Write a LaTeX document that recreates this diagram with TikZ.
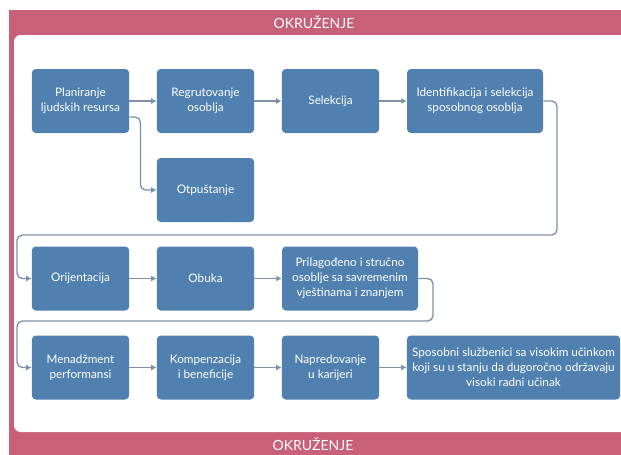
\documentclass[tikz,border=0pt]{standalone}
\usepackage{fontspec}
\setmainfont{Lato}
\usetikzlibrary{arrows.meta}
\definecolor{boxblue}{RGB}{80,128,176}
\definecolor{framepink}{RGB}{200,96,122}
\definecolor{linegray}{RGB}{125,145,168}

\begin{document}
\begin{tikzpicture}[x=0.75pt,y=-0.75pt,
	box/.style={fill=boxblue,rounded corners=3pt,text=white,align=center,
		font=\fontsize{8.8}{11.25}\selectfont,inner sep=0pt,
		minimum width=73pt,minimum height=48pt},
	widebox/.style={box,minimum width=102pt},
	endbox/.style={box,minimum width=160pt},
	link/.style={draw=linegray,line width=1pt,rounded corners=4pt,
		-{Latex[length=4pt,width=4.5pt]}},
	frametxt/.style={text=white,font=\fontsize{10.5}{12}\selectfont}]
	\useasboundingbox (0,0) rectangle (621,454);
	\clip (0,0) rectangle (621,454);
	% okvir
	\fill[framepink] (9,10) rectangle (660,480);
	\fill[white,rounded corners=5pt] (14,35) rectangle (680,432);
	\node[frametxt] (topline) at (314,22) {OKRUŽENJE};
	\node[frametxt] (bottomline) at (313,444) {OKRUŽENJE};

	% prvi red
	\node[box] (plan) at (80.5,101) {Planiranje\\ljudskih resursa};
	\node[box] (regr) at (205.5,101) {Regrutovanje\\osoblja};
	\node[box] (sel) at (330.5,101) {Selekcija};
	\node[widebox] (ident) at (475,101) {Identifikacija i selekcija\\sposobnog osoblja};
	\node[box] (otp) at (205.5,190) {Otpuštanje};

	% drugi red
	\node[box] (orij) at (80.5,278.5) {Orijentacija};
	\node[box] (obuka) at (205.5,278.5) {Obuka};
	\node[widebox] (pril) at (350,278.5) {Prilagođeno i stručno\\osoblje sa savremenim\\vještinama i znanjem};

	% treci red
	\node[box] (men) at (80.5,367.5) {Menadžment\\performansi};
	\node[box] (komp) at (205.5,367.5) {Kompenzacija\\i beneficije};
	\node[box] (napr) at (330.5,367.5) {Napredovanje\\u karijeri};
	\node[endbox] (spos) at (513.5,367.5) {Sposobni službenici sa visokim učinkom\\koji su u stanju da dugoročno održavaju\\visoki radni učinak};

	\draw[link] (plan) -- (regr);
	\draw[link] (regr) -- (sel);
	\draw[link] (sel) -- (ident);
	\draw[link] ([yshift=-12pt]plan.east) -- ++(11,0) |- (otp.west);
	\draw[link] (ident.east) -| (557,235) -- (17,235) |- (orij.west);

	\draw[link] (orij) -- (obuka);
	\draw[link] (obuka) -- (pril);
	\draw[link] (pril.east) -| (433,321) -- (17,321) |- (men.west);

	\draw[link] (men) -- (komp);
	\draw[link] (komp) -- (napr);
	\draw[link] (napr) -- (spos);
\end{tikzpicture}
\end{document}
